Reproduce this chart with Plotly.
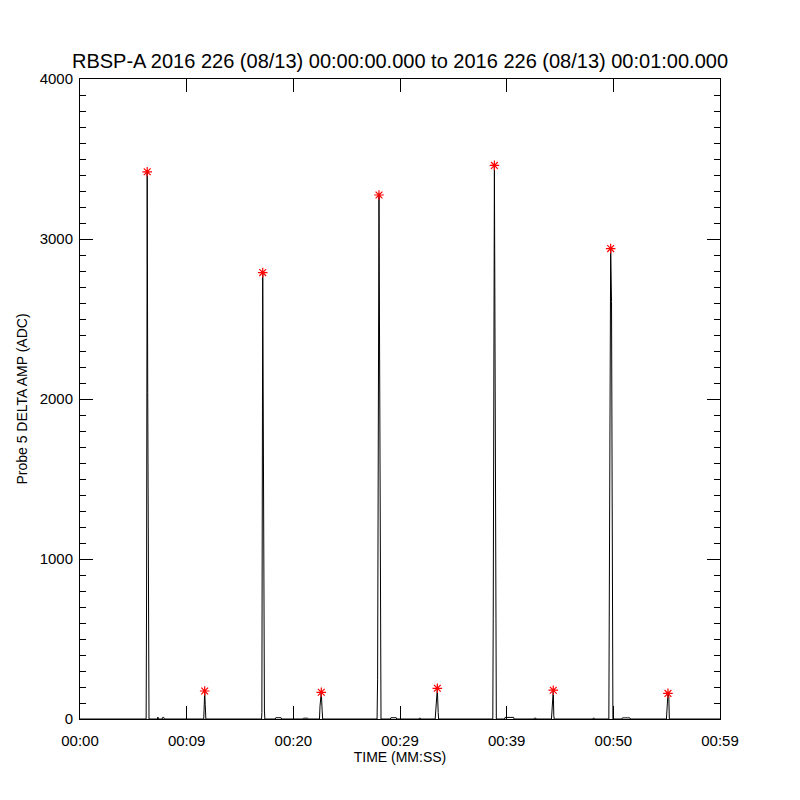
import plotly.graph_objects as go

# ---- data (seconds from 00:00:00, ADC units) ----
time_s = [
    0.00, 6.20, 6.24, 6.30, 6.35, 6.42, 6.47,
    7.25, 7.30, 7.36, 7.70, 7.75, 7.85, 7.90,
    11.60, 11.63, 11.69, 11.74, 11.80,
    17.02, 17.05, 17.13, 17.19, 17.24, 17.29, 17.33,
    18.30, 18.35, 18.85, 18.90, 20.90, 20.95, 21.35, 21.40,
    22.45, 22.50, 22.62, 22.70, 22.75,
    27.85, 27.90, 28.03, 28.12, 28.18, 28.22,
    29.10, 29.15, 29.65, 29.70, 31.75, 31.80, 31.90, 31.95,
    33.30, 33.33, 33.40, 33.50, 33.58, 33.62,
    38.70, 38.74, 38.85, 38.92, 38.98, 39.03,
    39.80, 39.85, 40.65, 40.70, 42.55, 42.60, 42.75, 42.80,
    44.20, 44.24, 44.30, 44.37, 44.42, 44.46,
    48.05, 48.10, 48.20, 48.25,
    49.58, 49.62, 49.75, 49.83, 49.90, 49.96,
    50.80, 50.85, 51.55, 51.60,
    54.98, 55.03, 55.12, 55.20, 55.25,
    60.00,
]
amp_adc = [
    0, 0, 725, 3420, 2040, 325, 0,
    0, 12, 0, 0, 10, 10, 0,
    0, 55, 175, 90, 0,
    0, 40, 2790, 1450, 1275, 50, 0,
    0, 8, 8, 0, 0, 5, 5, 0,
    0, 80, 167, 55, 0,
    0, 245, 3275, 1880, 890, 0,
    0, 8, 8, 0, 0, 5, 5, 0,
    0, 25, 110, 192, 40, 0,
    0, 630, 3460, 2370, 400, 0,
    0, 10, 10, 0, 0, 5, 5, 0,
    0, 45, 140, 180, 20, 0,
    0, 5, 5, 0,
    0, 1160, 2940, 2610, 85, 0,
    0, 7, 7, 0,
    0, 80, 160, 140, 0,
    0,
]

peak_time = [6.30, 11.69, 17.13, 22.62, 28.03, 33.50, 38.85, 44.37, 49.75, 55.12]
peak_amp = [3420, 175, 2790, 167, 3275, 192, 3460, 180, 2940, 160]

tick_seconds = [0, 10, 20, 30, 40, 50, 60]
tick_labels = ["00:00", "00:09", "00:20", "00:29", "00:39", "00:50", "00:59"]

title_text = "RBSP-A 2016 226 (08/13) 00:00:00.000 to 2016 226 (08/13) 00:01:00.000"

FONT = "Liberation Sans"
PAGE_OFFSET = 8  # default body margin of the html page

fig = go.Figure()
fig.add_trace(go.Scatter(
    x=time_s, y=amp_adc, mode="lines",
    line=dict(color="black", width=1), showlegend=False, hoverinfo="skip",
))
fig.add_trace(go.Scatter(
    x=peak_time, y=peak_amp, mode="markers",
    marker=dict(symbol="asterisk-open", size=8, color="red",
                line=dict(color="red", width=1.2)),
    showlegend=False,
))

fig.update_layout(
    width=800, height=800,
    margin=dict(l=80 - PAGE_OFFSET, r=80 + PAGE_OFFSET,
                t=79 - PAGE_OFFSET, b=81 + PAGE_OFFSET),
    paper_bgcolor="white", plot_bgcolor="white",
    font=dict(family=FONT, color="black", size=15),
    title=dict(text=title_text, x=(400 - PAGE_OFFSET) / 800, xanchor="center",
               y=1 - (61 - PAGE_OFFSET) / 800, yanchor="middle", yref="container",
               font=dict(family=FONT, size=20, color="black")),
)
fig.update_xaxes(
    range=[0, 60], tickmode="array", tickvals=tick_seconds, ticktext=tick_labels,
    showgrid=False, zeroline=False,
    showline=True, linecolor="black", linewidth=1, mirror="allticks",
    ticks="inside", ticklen=13, tickwidth=1, tickcolor="black",
    tickfont=dict(size=15), ticklabelstandoff=8,
    title=dict(text="TIME (MM:SS)", font=dict(size=14), standoff=4),
)
fig.update_yaxes(
    range=[0, 4000], tickmode="linear", tick0=0, dtick=1000,
    showgrid=False, zeroline=False,
    showline=True, linecolor="black", linewidth=1, mirror="allticks",
    ticks="inside", ticklen=13, tickwidth=1, tickcolor="black",
    tickfont=dict(size=15), ticklabelstandoff=3,
    minor=dict(dtick=100, ticks="inside", ticklen=6, tickwidth=1,
               tickcolor="black", showgrid=False),
    title=dict(text="Probe 5 DELTA AMP (ADC)", font=dict(size=14), standoff=8),
)

fig.write_html("out.html")
